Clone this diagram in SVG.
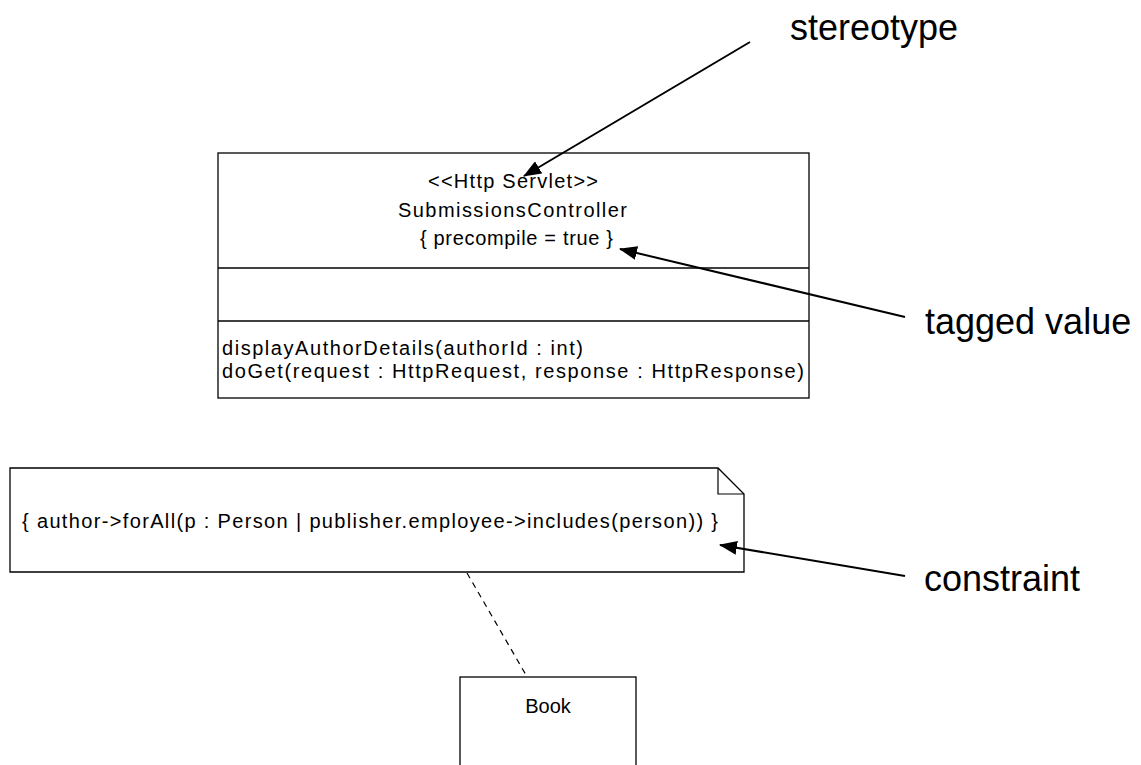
<svg xmlns="http://www.w3.org/2000/svg" width="1141" height="765" viewBox="0 0 1141 765">
  <style>
    .box { fill: #fff; stroke: #000; stroke-width: 1.3; }
    .t { font-family: "Liberation Sans", Arial, sans-serif; font-size: 20px; fill: #000; }
    .lbl { font-family: "Liberation Sans", Arial, sans-serif; font-size: 36px; fill: #000; }
    .arrow { stroke: #000; stroke-width: 2; fill: none; marker-end: url(#head); }
    .dash { stroke: #000; stroke-width: 1.2; stroke-dasharray: 6 5; fill: none; }
  </style>
  <defs>
    <marker id="head" markerWidth="18" markerHeight="14" refX="17" refY="7" orient="auto" markerUnits="userSpaceOnUse">
      <path d="M0,0 L18,7 L0,14 Z" fill="#000"/>
    </marker>
  </defs>
  <rect width="1141" height="765" fill="#fff"/>

  <g id="servlet">
    <rect class="box" x="218" y="153" width="591" height="245"/>
    <line x1="218" y1="268" x2="809" y2="268" stroke="#000" stroke-width="1.3"/>
    <line x1="218" y1="321" x2="809" y2="321" stroke="#000" stroke-width="1.3"/>
    <text class="t" x="428" y="188" textLength="170" lengthAdjust="spacing">&lt;&lt;Http Servlet&gt;&gt;</text>
    <text class="t" x="398" y="217" textLength="229" lengthAdjust="spacing">SubmissionsController</text>
    <text class="t" x="420" y="245" textLength="193" lengthAdjust="spacing">{ precompile = true }</text>
    <text class="t" x="222" y="355" textLength="361" lengthAdjust="spacing">displayAuthorDetails(authorId : int)</text>
    <text class="t" x="222" y="378" textLength="582" lengthAdjust="spacing">doGet(request : HttpRequest, response : HttpResponse)</text>
  </g>

  <g id="note">
    <path class="box" d="M10,468 L718,468 L744,494 L744,572 L10,572 Z"/>
    <path d="M718,468 L718,494 L744,494" fill="none" stroke="#000" stroke-width="1.2"/>
    <text class="t" x="22" y="528" textLength="696" lengthAdjust="spacing">{ author-&gt;forAll(p : Person | publisher.employee-&gt;includes(person)) }</text>
  </g>

  <g id="book">
    <rect class="box" x="460" y="677" width="176" height="100"/>
    <text class="t" x="548" y="713" text-anchor="middle">Book</text>
  </g>

  <g id="labels">
    <text class="lbl" x="790" y="40">stereotype</text>
    <text class="lbl" x="925" y="334">tagged value</text>
    <text class="lbl" x="924" y="591">constraint</text>
  </g>

  <g id="connectors">
    <line class="arrow" x1="750" y1="42" x2="524" y2="176"/>
    <line class="arrow" x1="905" y1="317" x2="620" y2="249"/>
    <line class="arrow" x1="905" y1="576" x2="720" y2="545"/>
    <line class="dash" x1="467" y1="573" x2="526" y2="675"/>
  </g>
</svg>
